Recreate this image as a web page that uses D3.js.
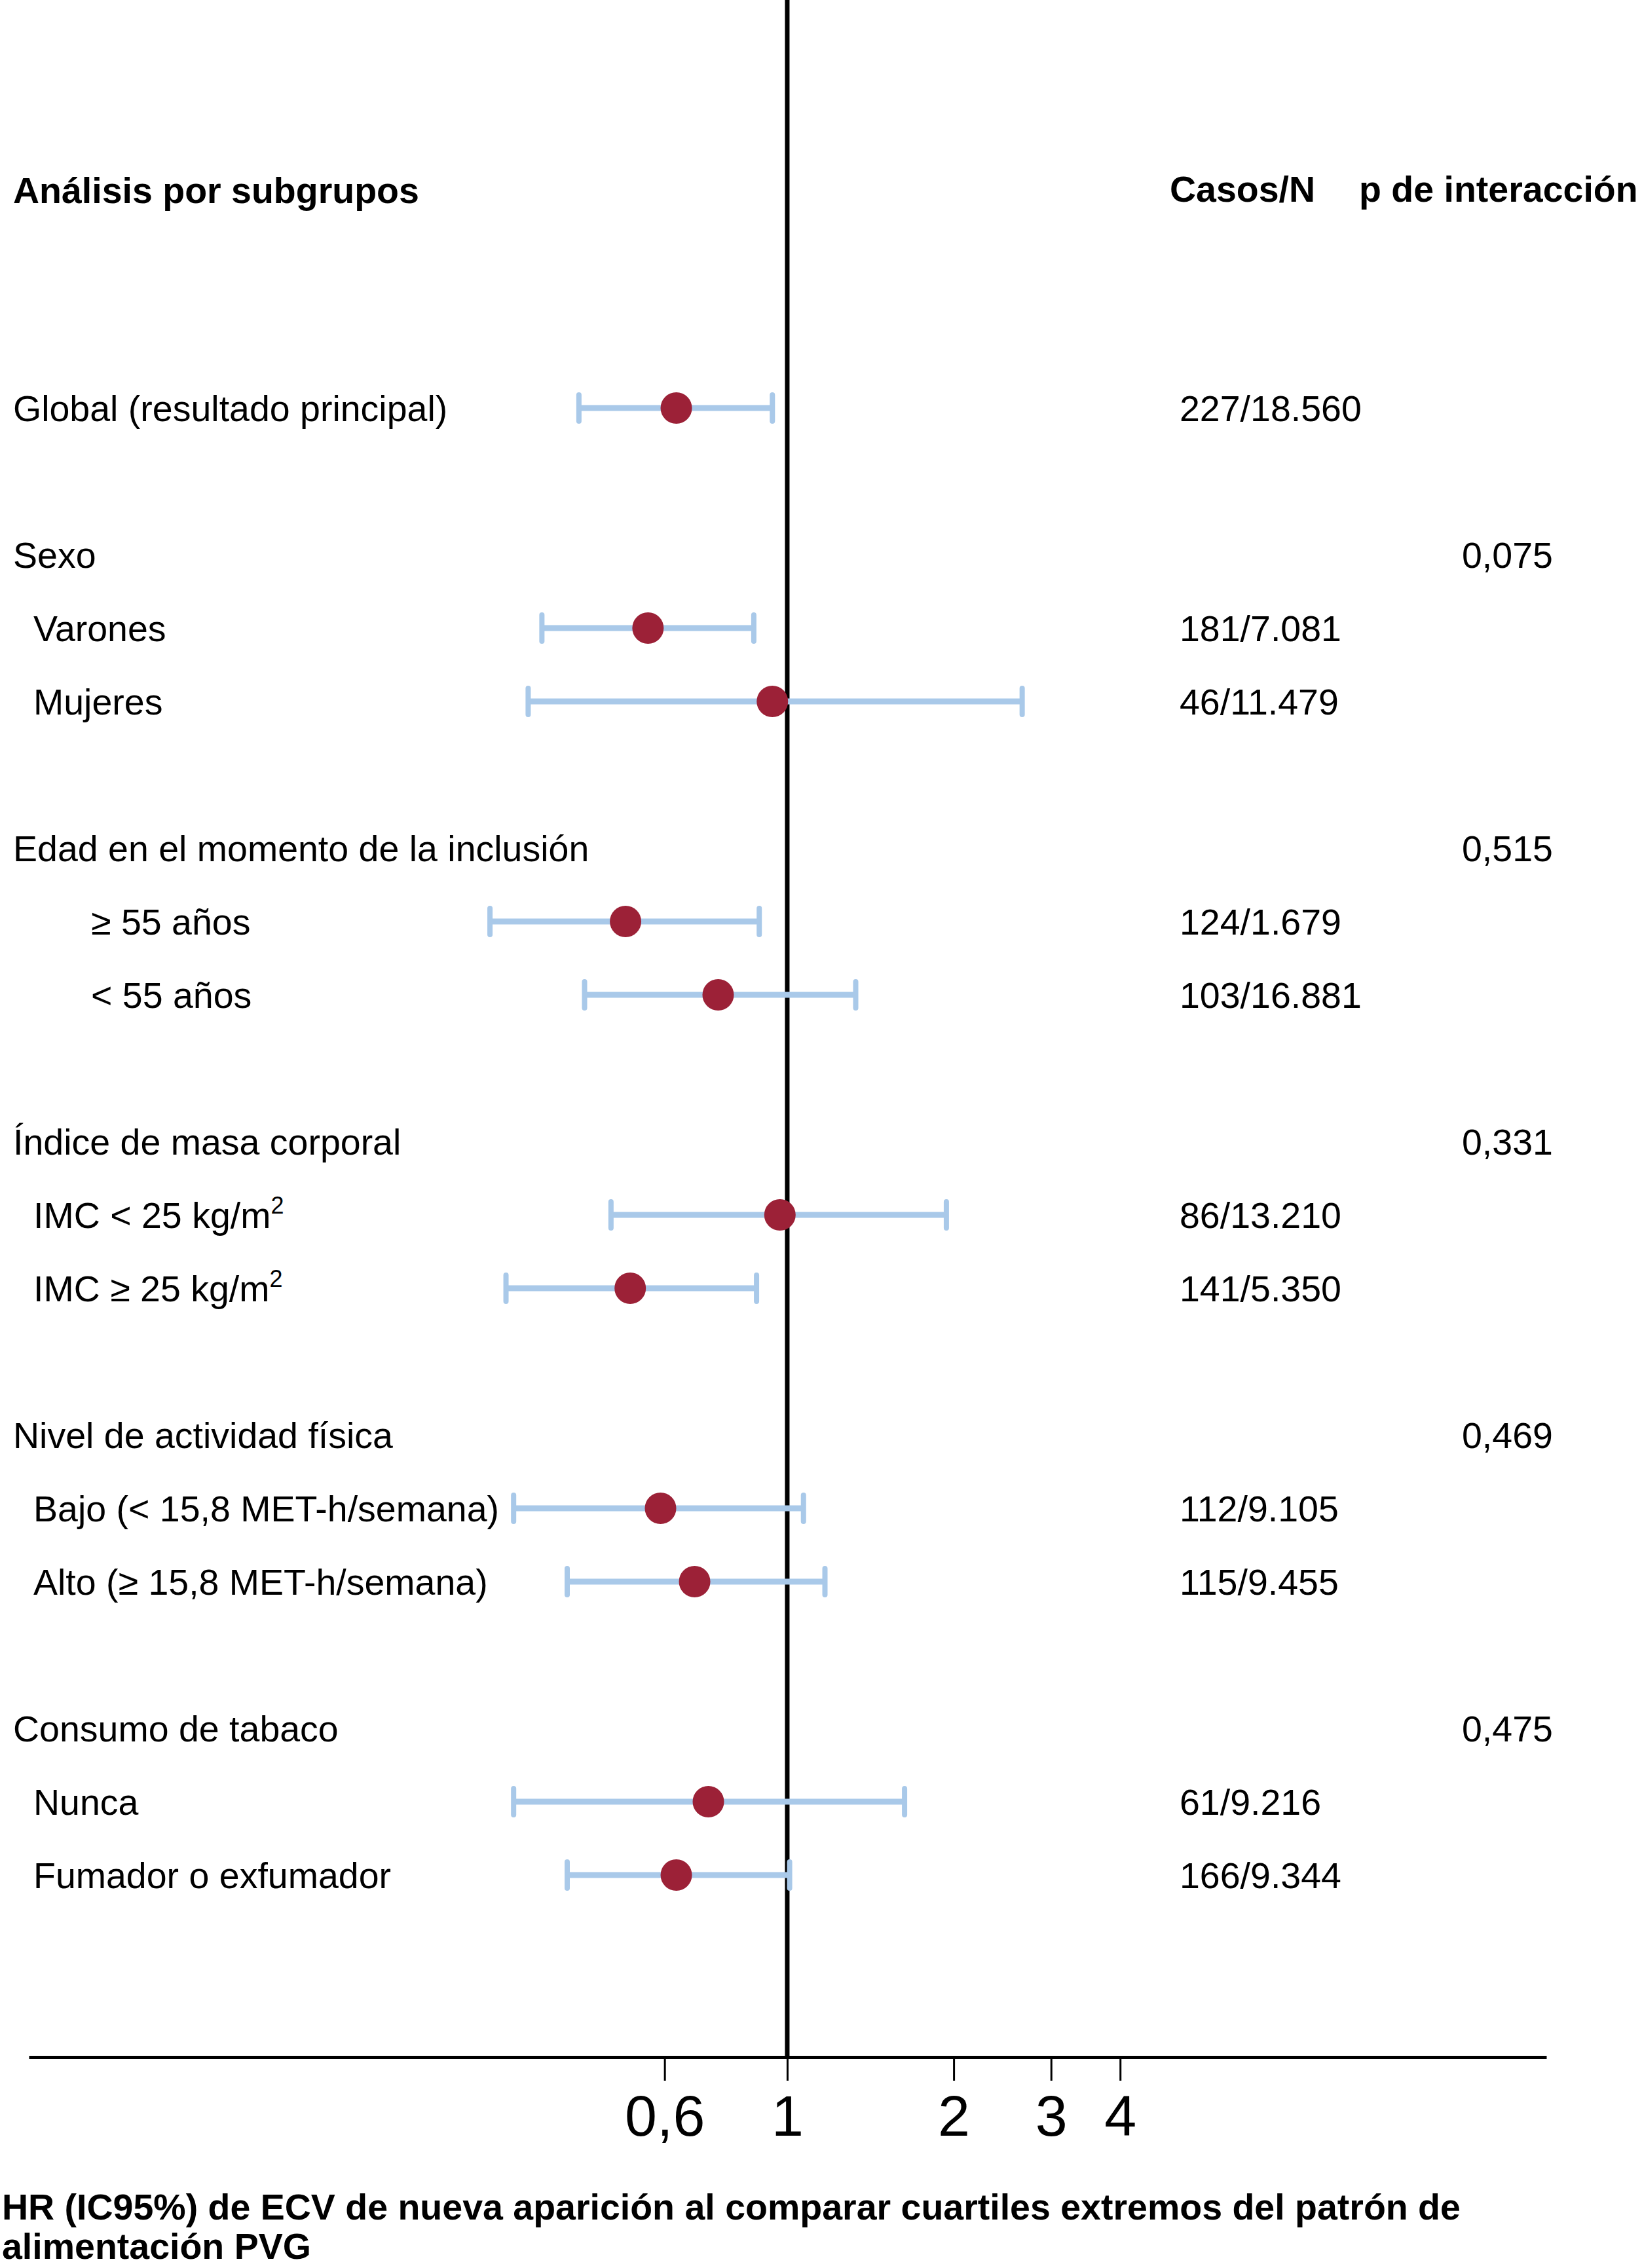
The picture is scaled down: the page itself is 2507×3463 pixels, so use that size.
<!DOCTYPE html>
<html>
<head>
<meta charset="utf-8">
<script src="https://cdn.jsdelivr.net/npm/d3@7"></script>
<style>
  body { margin: 0; background: #fff; }
  text { font-family: "Liberation Sans", Arial, Helvetica, sans-serif; fill: #000; }
</style>
</head>
<body>
<svg id="forest"></svg>
<script>
// data
const groups = ["Sexo", "Edad en el momento de la inclusión", "Índice de masa corporal",
                "Nivel de actividad física", "Consumo de tabaco"];
const pInteraction = ["0,075", "0,515", "0,331", "0,469", "0,475"];

const subgroups = ["Global (resultado principal)", "Varones", "Mujeres", "≥ 55 años", "< 55 años",
                   "IMC < 25 kg/m^2", "IMC ≥ 25 kg/m^2", "Bajo (< 15,8 MET-h/semana)",
                   "Alto (≥ 15,8 MET-h/semana)", "Nunca", "Fumador o exfumador"];
// which group each subgroup belongs to (-1 = overall)
const subgroupGroup = [-1, 0, 0, 1, 1, 2, 2, 3, 3, 4, 4];
const hrPoint = [0.63, 0.56, 0.94, 0.51, 0.75, 0.97, 0.52, 0.59, 0.68, 0.72, 0.63];
const hrLower = [0.42, 0.36, 0.34, 0.29, 0.43, 0.48, 0.31, 0.32, 0.40, 0.32, 0.40];
const hrUpper = [0.94, 0.87, 2.66, 0.89, 1.33, 1.94, 0.88, 1.07, 1.17, 1.63, 1.01];
const casosN = ["227/18.560", "181/7.081", "46/11.479", "124/1.679", "103/16.881", "86/13.210",
                "141/5.350", "112/9.105", "115/9.455", "61/9.216", "166/9.344"];

const tickValues = [0.6, 1, 2, 3, 4];
const tickLabels = ["0,6", "1", "2", "3", "4"];

const headerLeft = "Análisis por subgrupos";
const headerCasos = "Casos/N";
const headerP = "p de interacción";
const titleLines = ["HR (IC95%) de ECV de nueva aparición al comparar cuartiles extremos del patrón de",
                    "alimentación PVG"];

const W = 2507, H = 3463;
const barColor = "#a9c9e9", dotColor = "#9c2137";
const axisY = 3141;
const fs = "55.5px";

// build the row layout: blank line + header line before each group
let rows = [], slot = 0, lastGroup = -1;
subgroups.forEach((s, i) => {
  const g = subgroupGroup[i];
  if (g >= 0 && g !== lastGroup) {
    slot += 2;
    rows.push({ type: "header", label: groups[g], p: pInteraction[g], slot: slot });
    slot += 1;
    lastGroup = g;
  } else if (i > 0) {
    slot += 1;
  }
  rows.push({ type: "item", label: s, group: g, hr: hrPoint[i], lo: hrLower[i], hi: hrUpper[i],
              casos: casosN[i], slot: slot });
});
const items = rows.filter(d => d.type === "item");
const headers = rows.filter(d => d.type === "header");

const svg = d3.select("#forest").attr("width", W).attr("height", H);

const x = d3.scaleLog().domain([0.0425, 23.6]).range([44, 2361]);
const y = d3.scaleLinear().domain([0, 20]).range([623, 2863]);

// reference line at HR = 1
svg.append("line")
  .attr("x1", x(1)).attr("x2", x(1))
  .attr("y1", 0).attr("y2", axisY)
  .attr("stroke", "#000").attr("stroke-width", 7);

// x axis
const axis = svg.append("g")
  .attr("transform", `translate(0,${axisY})`)
  .call(d3.axisBottom(x).tickValues(tickValues)
    .tickFormat((d, i) => tickLabels[i])
    .tickSize(36).tickSizeOuter(0).tickPadding(22));
axis.select(".domain").attr("stroke", "#000").attr("stroke-width", 5);
axis.selectAll(".tick line").attr("stroke", "#000").attr("stroke-width", 3);
axis.selectAll(".tick text")
  .style("font-family", "'Liberation Sans', Arial, sans-serif")
  .style("font-size", "88px").attr("fill", "#000");

// confidence intervals
const ci = svg.append("g");
ci.selectAll(".ci").data(items).enter().append("line")
  .attr("x1", d => x(d.lo)).attr("x2", d => x(d.hi))
  .attr("y1", d => y(d.slot)).attr("y2", d => y(d.slot))
  .attr("stroke", barColor).attr("stroke-width", 9);
ci.selectAll(".capL").data(items).enter().append("line")
  .attr("x1", d => x(d.lo)).attr("x2", d => x(d.lo))
  .attr("y1", d => y(d.slot) - 20).attr("y2", d => y(d.slot) + 20)
  .attr("stroke", barColor).attr("stroke-width", 8).attr("stroke-linecap", "round");
ci.selectAll(".capR").data(items).enter().append("line")
  .attr("x1", d => x(d.hi)).attr("x2", d => x(d.hi))
  .attr("y1", d => y(d.slot) - 20).attr("y2", d => y(d.slot) + 20)
  .attr("stroke", barColor).attr("stroke-width", 8).attr("stroke-linecap", "round");

// point estimates
svg.append("g").selectAll("circle").data(items).enter().append("circle")
  .attr("cx", d => x(d.hr)).attr("cy", d => y(d.slot))
  .attr("r", 24).attr("fill", dotColor);

// column headers
svg.append("text").attr("x", 20).attr("y", 310).style("font-size", fs)
  .style("font-weight", "bold").text(headerLeft);
svg.append("text").attr("x", 1786).attr("y", 308).style("font-size", fs)
  .style("font-weight", "bold").text(headerCasos);
svg.append("text").attr("x", 2075).attr("y", 308).style("font-size", fs)
  .style("font-weight", "bold").text(headerP);

// group headers with p of interaction
const gh = svg.append("g").selectAll("g").data(headers).enter().append("g");
gh.append("text").attr("x", 20).attr("y", d => y(d.slot)).attr("dy", "0.36em")
  .style("font-size", fs).text(d => d.label);
gh.append("text").attr("x", 2232).attr("y", d => y(d.slot)).attr("dy", "0.36em")
  .style("font-size", fs).text(d => d.p);

// subgroup labels (age rows are indented deeper)
const lab = svg.append("g").selectAll("text").data(items).enter().append("text")
  .attr("x", d => d.group === -1 ? 20 : (d.group === 1 ? 139 : 51))
  .attr("y", d => y(d.slot)).attr("dy", "0.36em")
  .style("font-size", fs);
lab.each(function (d) {
  const parts = d.label.split("^");
  const t = d3.select(this);
  t.append("tspan").text(parts[0]);
  if (parts.length > 1) {
    t.append("tspan").attr("dy", "-0.6em").style("font-size", "36px").text(parts[1]);
  }
});

// cases / N column
svg.append("g").selectAll("text").data(items).enter().append("text")
  .attr("x", 1801).attr("y", d => y(d.slot)).attr("dy", "0.36em")
  .style("font-size", fs).text(d => d.casos);

// x axis caption
svg.append("g").selectAll("text").data(titleLines).enter().append("text")
  .attr("x", 3).attr("y", (d, i) => 3389 + i * 60)
  .style("font-size", fs).style("font-weight", "bold").text(d => d);
</script>
</body>
</html>
